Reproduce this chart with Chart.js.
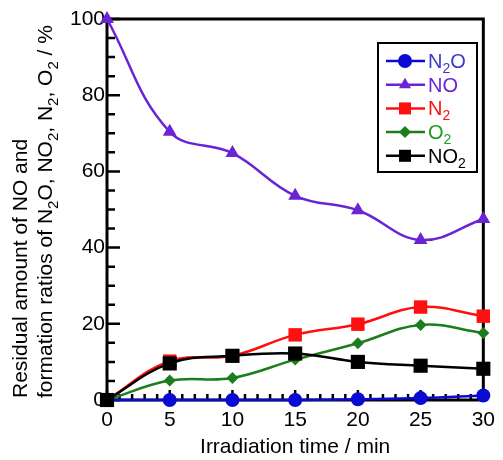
<!DOCTYPE html>
<html>
<head>
<meta charset="utf-8">
<script src="https://cdn.jsdelivr.net/npm/chart.js@4/dist/chart.umd.min.js"></script>
<style>
  html, body { margin: 0; padding: 0; background: #fff; }
  #wrap { width: 503px; height: 460px; }
</style>
</head>
<body>
<div id="wrap"><canvas id="chart" width="503" height="460"></canvas></div>
<script>
// times in min
const times = [0, 5, 10, 15, 20, 25, 30];

// percent values
const n2oValues = [0, 0, 0, 0, 0.2, 0.5, 1.2];
const noValues  = [100, 70.4, 64.8, 53.6, 49.8, 42.0, 47.5];
const n2Values  = [0, 10.2, 11.6, 17.1, 19.9, 24.4, 22.0];
const o2Values  = [0, 5.1, 5.8, 10.6, 14.9, 19.7, 17.6];
const no2Values = [0, 9.6, 11.6, 12.2, 10.0, 9.0, 8.2];

// '_x' marks a subscript character
const seriesNames = ['N_2O', 'NO', 'N_2', 'O_2', 'NO_2'];
const xTitle = 'Irradiation time / min';
const yTitleLines = ['Residual amount of NO and', 'formation ratios of N_2O, NO_2, N_2, O_2 / %'];

const xMajor = 5, xMinor = 1;
const yMajor = 20, yMinor = 5;

const FONT = '"Liberation Sans", Arial, sans-serif';

function pts(vals) {
    return vals.map((v, i) => ({ x: times[i], y: v }));
}

// draw text where odd pieces are subscripts
function drawRich(ctx, str, x, y, size, subSize, drop) {
    const parts = str.split(/_(.)/);
    let cx = x;
    parts.forEach((p, i) => {
        const sub = i % 2 === 1;
        ctx.font = `${sub ? subSize : size}px ${FONT}`;
        ctx.fillText(p, cx, sub ? y + drop : y);
        cx += ctx.measureText(p).width;
    });
    return cx - x;
}

function drawMarker(ctx, style, x, y, r) {
    ctx.beginPath();
    if (style === 'circle') {
        ctx.arc(x, y, r, 0, Math.PI * 2);
    } else if (style === 'triangle') {
        ctx.moveTo(x, y - r);
        ctx.lineTo(x + r * 0.866, y + r * 0.5);
        ctx.lineTo(x - r * 0.866, y + r * 0.5);
        ctx.closePath();
    } else if (style === 'rectRot') {
        ctx.moveTo(x, y - r);
        ctx.lineTo(x + r, y);
        ctx.lineTo(x, y + r);
        ctx.lineTo(x - r, y);
        ctx.closePath();
    } else {
        const s = r * Math.SQRT1_2;
        ctx.rect(x - s, y - s, 2 * s, 2 * s);
    }
    ctx.fill();
}

const frameTicks = {
    id: 'frameTicks',
    beforeDatasetsDraw(chart) {
        const { ctx, chartArea: a, scales: { x, y } } = chart;
        ctx.save();
        ctx.strokeStyle = '#000';
        ctx.lineWidth = 2.5;
        ctx.beginPath();
        for (let v = y.min; v <= y.max; v += yMinor) {
            const py = y.getPixelForValue(v);
            const len = v % yMajor === 0 ? 13 : 8;
            ctx.moveTo(a.left, py);
            ctx.lineTo(a.left + len, py);
        }
        for (let v = x.min; v <= x.max; v += xMinor) {
            const px = x.getPixelForValue(v);
            const len = v % xMajor === 0 ? 10 : 6;
            ctx.moveTo(px, a.bottom);
            ctx.lineTo(px, a.bottom - len);
        }
        ctx.stroke();
        ctx.lineWidth = 3;
        ctx.strokeRect(a.left, a.top, a.right - a.left, a.bottom - a.top);
        ctx.restore();
    },
    afterDraw(chart) {
        const { ctx } = chart;
        ctx.save();
        // y axis title, two rotated lines
        ctx.fillStyle = '#000';
        ctx.textBaseline = 'alphabetic';
        ctx.textAlign = 'left';
        ctx.translate(0, 398);
        ctx.rotate(-Math.PI / 2);
        drawRich(ctx, yTitleLines[0], 0, 27, 21, 15, 6);
        drawRich(ctx, yTitleLines[1], 0, 52, 21, 15, 6);
        ctx.restore();

        // legend
        ctx.save();
        ctx.strokeStyle = '#000';
        ctx.lineWidth = 2;
        ctx.strokeRect(378, 43, 99, 129);
        const ds = chart.data.datasets;
        ds.forEach((d, i) => {
            const ry = 61 + i * 23.7;
            ctx.strokeStyle = d.borderColor;
            ctx.lineWidth = 2.5;
            ctx.beginPath();
            ctx.moveTo(386, ry);
            ctx.lineTo(425, ry);
            ctx.stroke();
            ctx.fillStyle = d.backgroundColor;
            drawMarker(ctx, d.pointStyle, 405, ry, d.legendRadius);
            ctx.fillStyle = d.labelColor;
            ctx.textBaseline = 'alphabetic';
            drawRich(ctx, seriesNames[i], 428, ry + 7, 20, 14, 5);
        });
        ctx.restore();
    }
};

function series(vals, color, labelColor, style, radius, legendRadius, order) {
    return {
        data: pts(vals),
        borderColor: color,
        backgroundColor: color,
        labelColor: labelColor,
        pointStyle: style,
        pointRadius: radius,
        pointHoverRadius: radius,
        pointBorderWidth: 0,
        legendRadius: legendRadius,
        borderWidth: 2.5,
        tension: 0.4,
        clip: false,
        order: order
    };
}

new Chart(document.getElementById('chart'), {
    type: 'line',
    data: {
        datasets: [
            series(n2oValues, '#0a0ad2', '#3a3ad0', 'circle', 7, 7, 2),
            series(noValues, '#6b24d4', '#6b24d4', 'triangle', 8, 7, 1),
            series(n2Values, '#ff1010', '#ff1010', 'rect', 9.5, 8.5, 3),
            series(o2Values, '#1b7d1b', '#1e9e1e', 'rectRot', 6, 6, 4),
            series(no2Values, '#000000', '#000000', 'rect', 10, 8.5, 0)
        ]
    },
    options: {
        responsive: false,
        animation: false,
        events: [],
        layout: { padding: { top: 19, right: 13, bottom: 0, left: 0 } },
        plugins: {
            legend: { display: false },
            tooltip: { enabled: false }
        },
        scales: {
            x: {
                type: 'linear',
                min: 0,
                max: 30,
                afterFit: s => { s.height = 60; },
                grid: { display: false, drawTicks: false },
                border: { display: false },
                ticks: {
                    stepSize: xMajor,
                    padding: 8,
                    color: '#000',
                    font: { family: FONT, size: 21 }
                },
                title: {
                    display: true,
                    text: xTitle,
                    color: '#000',
                    font: { family: FONT, size: 21 },
                    padding: { top: 0, bottom: 0 }
                }
            },
            y: {
                min: 0,
                max: 100,
                afterFit: s => { s.width = 107; },
                grid: { display: false, drawTicks: false },
                border: { display: false },
                ticks: {
                    stepSize: yMajor,
                    padding: 2,
                    color: '#000',
                    font: { family: FONT, size: 21 }
                }
            }
        }
    },
    plugins: [frameTicks]
});
</script>
</body>
</html>
